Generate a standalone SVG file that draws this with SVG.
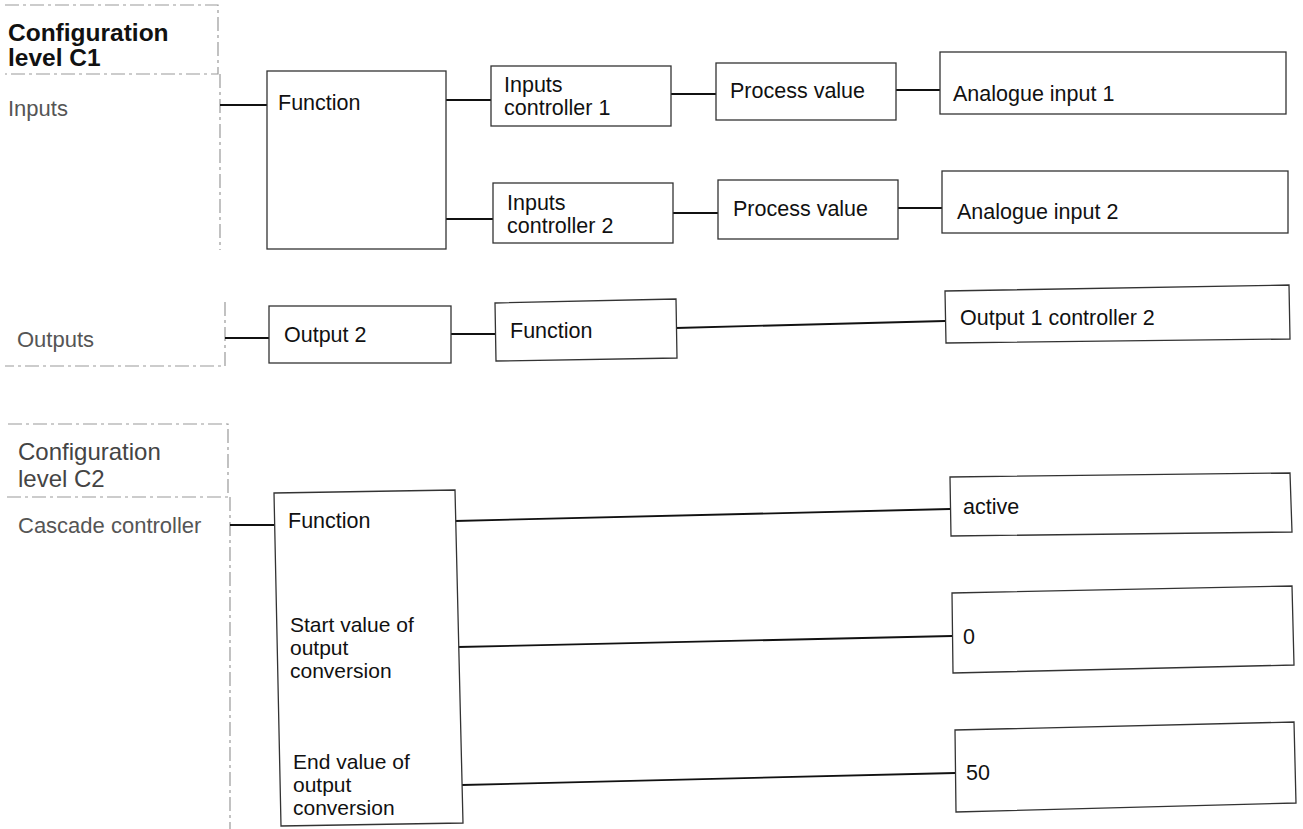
<svg xmlns="http://www.w3.org/2000/svg" width="1303" height="829" viewBox="0 0 1303 829">
<style>
.bg{fill:#fff}
.box{fill:#fff;stroke:#333;stroke-width:1.3}
.panel{fill:none;stroke:#999;stroke-width:1.2;stroke-dasharray:14 4 3 4}
.t{font-family:"Liberation Sans",Arial,sans-serif;font-size:21.5px;fill:#111}
.s{font-family:"Liberation Sans",Arial,sans-serif;font-size:21px;fill:#111}
.p{font-family:"Liberation Sans",Arial,sans-serif;font-size:22px;fill:#555}
.h1{font-family:"Liberation Sans",Arial,sans-serif;font-size:24.5px;font-weight:bold;fill:#111}
.h2{font-family:"Liberation Sans",Arial,sans-serif;font-size:24px;fill:#444}
.c{stroke:#111;stroke-width:1.8;fill:none}
</style>
<rect class="bg" x="0" y="0" width="1303" height="829"/>

<g id="panel-c1">
<path class="panel" d="M5,5 H218 V74 H5 M220,74 V250"/>
<text class="h1" x="8" y="41">Configuration</text>
<text class="h1" x="8" y="66">level C1</text>
<text class="p" x="8" y="116">Inputs</text>
</g>

<g id="panel-outputs">
<path class="panel" d="M225,302 V366 H5"/>
<text class="p" x="17" y="347">Outputs</text>
</g>

<g id="panel-c2">
<path class="panel" d="M8,424 H228 V497 H5 M230,497 V829"/>
<text class="h2" x="18" y="460">Configuration</text>
<text class="h2" x="18" y="487">level C2</text>
<text class="p" x="18" y="533">Cascade controller</text>
</g>

<g id="connectors">
<path class="c" d="M220,105 H267"/>
<path class="c" d="M446,100 H491"/>
<path class="c" d="M446,219 H493"/>
<path class="c" d="M671,94 H716"/>
<path class="c" d="M673,213 H718"/>
<path class="c" d="M896,90 H940"/>
<path class="c" d="M898,208 H942"/>
<path class="c" d="M225,338 H269"/>
<path class="c" d="M451,334 H495"/>
<path class="c" d="M676,328 L945,321"/>
<path class="c" d="M230,525 H274"/>
<path class="c" d="M455,521 L950,509"/>
<path class="c" d="M458,647 L952,636"/>
<path class="c" d="M462,785 L955,773"/>
</g>

<g id="n-function1">
<rect class="box" x="267" y="71" width="179" height="178"/>
<text class="t" x="278" y="110">Function</text>
</g>
<g id="n-inputs-ctrl1">
<rect class="box" x="491" y="66" width="180" height="60"/>
<text class="t" x="504" y="92">Inputs</text>
<text class="t" x="504" y="115">controller 1</text>
</g>
<g id="n-pv1">
<rect class="box" x="716" y="63" width="180" height="57"/>
<text class="t" x="730" y="98">Process value</text>
</g>
<g id="n-ai1">
<rect class="box" x="940" y="52" width="346" height="62"/>
<text class="t" x="953" y="101">Analogue input 1</text>
</g>
<g id="n-inputs-ctrl2">
<rect class="box" x="493" y="183" width="180" height="60"/>
<text class="t" x="507" y="210">Inputs</text>
<text class="t" x="507" y="233">controller 2</text>
</g>
<g id="n-pv2">
<rect class="box" x="718" y="180" width="180" height="59"/>
<text class="t" x="733" y="216">Process value</text>
</g>
<g id="n-ai2">
<rect class="box" x="942" y="171" width="346" height="62"/>
<text class="t" x="957" y="219">Analogue input 2</text>
</g>

<g id="n-output2">
<rect class="box" x="269" y="306" width="182" height="57"/>
<text class="t" x="284" y="342">Output 2</text>
</g>
<g id="n-function-out">
<polygon class="box" points="495,303 676,299 677,358 496,361"/>
<text class="t" x="510" y="338">Function</text>
</g>
<g id="n-out1ctrl2">
<polygon class="box" points="945,291 1289,285 1290,339 946,343"/>
<text class="t" x="960" y="325">Output 1 controller 2</text>
</g>

<g id="n-function-c2">
<polygon class="box" points="274,493 455,490 463,823 281,826"/>
<text class="t" x="288" y="528">Function</text>
<text class="s" x="290" y="632">Start value of</text>
<text class="s" x="290" y="655">output</text>
<text class="s" x="290" y="678">conversion</text>
<text class="s" x="293" y="769">End value of</text>
<text class="s" x="293" y="792">output</text>
<text class="s" x="293" y="815">conversion</text>
</g>
<g id="n-active">
<polygon class="box" points="950,477 1290,473 1292,532 951,536"/>
<text class="t" x="963" y="514">active</text>
</g>
<g id="n-zero">
<polygon class="box" points="952,593 1292,586 1294,665 953,673"/>
<text class="t" x="963" y="644">0</text>
</g>
<g id="n-fifty">
<polygon class="box" points="955,730 1294,722 1296,803 956,812"/>
<text class="t" x="966" y="780">50</text>
</g>
</svg>
